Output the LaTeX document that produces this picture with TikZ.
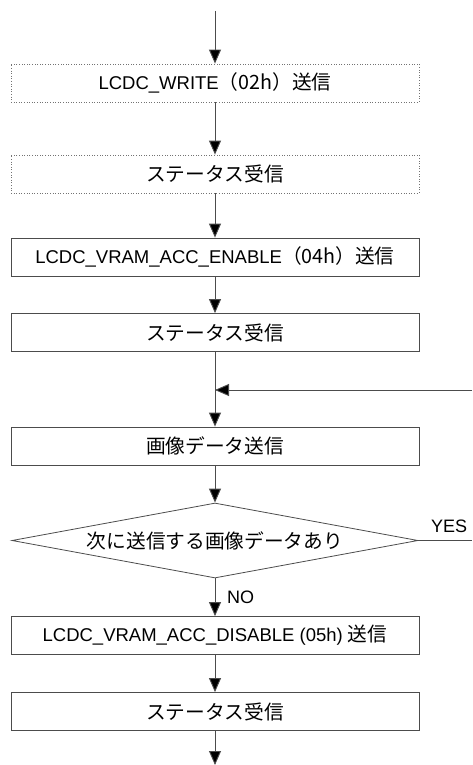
\documentclass[tikz,border=0pt]{standalone}
\usepackage{fontspec}
\setmainfont{Liberation Sans}
\newfontfamily\cjk[Scale=1.065]{Noto Sans CJK JP}
\usetikzlibrary{arrows.meta,shapes.geometric}
\begin{document}
\begin{tikzpicture}[x=1pt,y=-1pt,
  every node/.style={font=\fontsize{18.5}{22}\selectfont},
  procbox/.style={draw=black!70, line width=0.8pt, minimum width=408pt, minimum height=38pt, inner sep=0pt},
  dotbox/.style={draw=black!55, line width=0.8pt, dash pattern=on 1pt off 1.6pt, minimum width=408pt, minimum height=38pt, inner sep=0pt},
  flow/.style={draw=black!70, line width=0.9pt, -{Triangle[length=14pt,width=12pt,fill=black]}},
  plain/.style={draw=black!70, line width=0.9pt},
  lbl/.style={inner sep=0pt, font=\fontsize{18}{21}\selectfont}]
\useasboundingbox (0,0) rectangle (472,765);
\coordinate (start) at (215,11);
\node[dotbox] (b1) at (215,83) {LCDC\_WRITE{\cjk（02h）送信}};
\node[dotbox] (b2) at (215,174) {\cjk ステータス受信};
\node[procbox] (b3) at (215,257) {LCDC\_VRAM\_ACC\_ENABLE{\cjk（04h）送信}};
\node[procbox] (b4) at (215,332.5) {\cjk ステータス受信};
\node[procbox] (b5) at (215,446) {\cjk 画像データ送信};
\node[diamond, draw=black!70, line width=0.8pt, aspect=5.4, inner sep=0pt, minimum width=406pt, minimum height=75pt] (d) at (215,540.5) {\cjk 次に送信する画像データあり};
\node[procbox] (b6) at (215,635.5) {LCDC\_VRAM\_ACC\_DISABLE (05h) {\cjk 送信}};
\node[procbox] (b7) at (215,711.5) {\cjk ステータス受信};
\coordinate (end) at (215,765);
\coordinate (yesend) at (472,540.5);
\coordinate (loopin) at (472,390);
\coordinate (join) at (215,390);

\draw[flow] (start) -- (b1.north);
\draw[flow] (b1.south) -- (b2.north);
\draw[flow] (b2.south) -- (b3.north);
\draw[flow] (b3.south) -- (b4.north);
\draw[flow] (b4.south) -- (b5.north);
\draw[flow] (loopin) -- (join);
\draw[flow] (b5.south) -- (d.north);
\draw[plain] (d.east) -- (yesend);
\draw[flow] (d.south) -- (b6.north);
\draw[flow] (b6.south) -- (b7.north);
\draw[flow] (b7.south) -- (end);

\node[lbl, anchor=south west] (yes) at (431,533) {YES};
\node[lbl, anchor=west] (no) at (227,597) {NO};
\end{tikzpicture}
\end{document}
